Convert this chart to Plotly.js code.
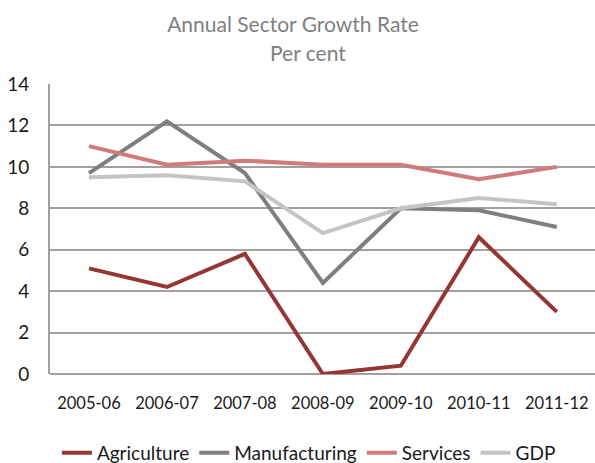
<!DOCTYPE html>
<html>
<head>
<meta charset="utf-8">
<script src="https://cdn.plot.ly/plotly-3.0.1.min.js"></script>
<style>html,body{margin:0;padding:0;background:#fff;}#chart{width:595px;height:463px;}</style>
</head>
<body>
<div id="chart"></div>
<script>
const years = ["2005-06","2006-07","2007-08","2008-09","2009-10","2010-11","2011-12"];
const agriculture = [5.1, 4.2, 5.8, 0.0, 0.4, 6.6, 3.0];
const manufacturing = [9.7, 12.2, 9.7, 4.4, 8.0, 7.9, 7.1];
const services = [11.0, 10.1, 10.3, 10.1, 10.1, 9.4, 10.0];
const gdp = [9.5, 9.6, 9.3, 6.8, 8.0, 8.5, 8.2];
const yTicks = [0, 2, 4, 6, 8, 10, 12, 14];
const titleText = 'Annual Sector Growth Rate';
const subtitleText = 'Per cent';

function tr(name, y, color) {
  return {x: years, y: y, name: name, type: 'scatter', mode: 'lines',
          line: {color: color, width: 4}};
}
const data = [
  tr('Agriculture', agriculture, '#943634'),
  tr('Manufacturing', manufacturing, '#7f7f7f'),
  tr('Services', services, '#d07a7a'),
  tr('GDP', gdp, '#c4c4c4')
];
const layout = {
  width: 595, height: 463,
  margin: {l: 50, r: 0, t: 84, b: 89, autoexpand: false},
  paper_bgcolor: '#fff', plot_bgcolor: '#fff',
  font: {family: 'Lato, "Open Sans", sans-serif', color: '#1a1a1a', size: 14},
  title: {text: titleText, x: 0.4924, xanchor: 'center',
          y: 0.963, yanchor: 'top', font: {size: 21, color: '#7f7f7f', family: 'Lato, sans-serif'}},
  annotations: [{text: subtitleText, xref: 'paper', yref: 'paper', x: 0.473, y: 1.107,
                 xanchor: 'center', yanchor: 'middle', showarrow: false,
                 font: {size: 21, color: '#7f7f7f', family: 'Lato, sans-serif'}}],
  showlegend: true,
  legend: {orientation: 'h', x: 0.475, xanchor: 'center', y: -0.272, yanchor: 'middle',
           font: {size: 19, color: '#1a1a1a'}, traceorder: 'normal', itemwidth: 30},
  xaxis: {type: 'category', range: [-0.5, 6.49], showgrid: false, zeroline: false,
          showline: false, ticks: 'outside', ticklen: 14, tickcolor: 'rgba(0,0,0,0)',
          tickfont: {size: 16.5}, fixedrange: true},
  yaxis: {range: [0, 14], tickvals: yTicks, ticktext: yTicks.map(String),
          showgrid: true, gridcolor: '#a0a0a0', gridwidth: 2,
          zeroline: true, zerolinecolor: '#a0a0a0', zerolinewidth: 2,
          showline: true, linecolor: '#a0a0a0', linewidth: 2,
          ticks: 'outside', ticklen: 15, tickcolor: 'rgba(0,0,0,0)',
          tickfont: {size: 19}, fixedrange: true}
};
Plotly.newPlot('chart', data, layout, {displayModeBar: false, staticPlot: true});
</script>
</body>
</html>
